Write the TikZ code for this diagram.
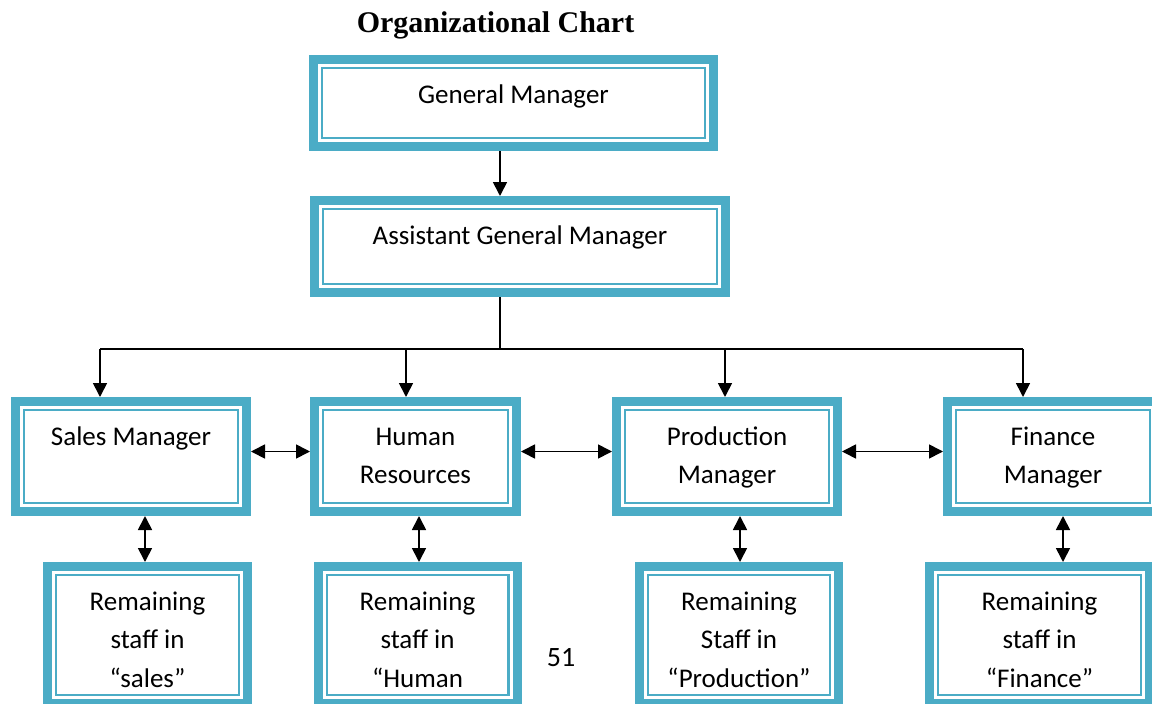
\documentclass[tikz,border=0pt]{standalone}
\usepackage{fontspec}
\setmainfont{Carlito}
\newfontfamily\headfont{Liberation Serif}
\usepackage{tikz}
\usetikzlibrary{calc,positioning,arrows.meta}
\definecolor{accent}{HTML}{4BACC6}
\newcommand{\topstrut}{\rule{0pt}{26pt}}
\tikzset{
  line/.style={line width=1.7pt},
  orgbox/.style={draw=accent, fill=white, line width=9pt, inner sep=0pt, outer sep=4.5pt,
    path picture={\draw[accent, line width=2.2pt]
      ([shift={(8.6pt,8.6pt)}]path picture bounding box.south west) rectangle
      ([shift={(-8.6pt,-8.6pt)}]path picture bounding box.north east);}},
  boxtext/.style={anchor=north, inner sep=0pt, align=center,
    font=\fontsize{27}{38.5}\selectfont}
}

\begin{document}
\begin{tikzpicture}[x=1pt, y=-1pt, >={Triangle[length=14pt,width=14pt]}]
  \useasboundingbox (0,0) rectangle (1152,704);
  \clip (0,0) rectangle (1152,704);

  \node[anchor=base, font=\headfont\fontsize{30}{36}\selectfont\bfseries] (title) at (495.5,32) {Organizational Chart};

  % top of the chart
  \node[orgbox, minimum width=400pt, minimum height=87pt] (gm) at (513.5,103) {};
  \node[boxtext] (gmtext) at ([yshift=-22pt]gm.north) {\topstrut General Manager};
  \node[orgbox, minimum width=411pt, minimum height=92pt] (agm) at (520,246.5) {};
  \node[boxtext] (agmtext) at ([yshift=-22pt]agm.north) {\topstrut Assistant General Manager};

  % managers
  \node[orgbox, minimum width=231pt, minimum height=110pt] (sm) at (131,456.5) {};
  \node[boxtext] (smtext) at ([yshift=-22pt]sm.north) {\topstrut Sales Manager};
  \node[orgbox, minimum width=202pt, minimum height=110pt] (hr) at (415.5,456.5) {};
  \node[boxtext] (hrtext) at ([yshift=-22pt]hr.north) {\topstrut Human\\Resources};
  \node[orgbox, minimum width=221pt, minimum height=110pt] (pm) at (727,456.5) {};
  \node[boxtext] (pmtext) at ([yshift=-22pt]pm.north) {\topstrut Production\\Manager};
  \node[orgbox, minimum width=211pt, minimum height=110pt] (fm) at (1053,456.5) {};
  \node[boxtext] (fmtext) at ([yshift=-22pt]fm.north) {\topstrut Finance\\Manager};

  % staff
  \node[orgbox, minimum width=200pt, minimum height=137pt] (ss) at (147.5,635) {};
  \node[boxtext] (sstext) at ([yshift=-22pt]ss.north) {\topstrut Remaining\\staff in\\“sales”};
  \node[orgbox, minimum width=199pt, minimum height=137pt] (hs) at (417.5,635) {};
  \node[boxtext] (hstext) at ([yshift=-22pt]hs.north) {\topstrut Remaining\\staff in\\“Human};
  \node[orgbox, minimum width=199pt, minimum height=137pt] (ps) at (739,635) {};
  \node[boxtext] (pstext) at ([yshift=-22pt]ps.north) {\topstrut Remaining\\Staff in\\“Production”};
  \node[orgbox, minimum width=220pt, minimum height=137pt] (fs) at (1039.5,635) {};
  \node[boxtext] (fstext) at ([yshift=-22pt]fs.north) {\topstrut Remaining\\staff in\\“Finance”};

  \node[font=\fontsize{28}{34}\selectfont] (page) at (561,658) {51};

  % bus
  \coordinate (trunk) at (500,349);
  \coordinate (d1) at (100,349);
  \coordinate (d2) at (406,349);
  \coordinate (d3) at (725,349);
  \coordinate (d4) at (1023,349);

  \draw[line, ->] (gm.south -| trunk) -- (agm.north -| trunk);
  \draw[line] (agm.south -| trunk) -- (trunk);
  \draw[line] (d1) -- (d4);
  \draw[line, ->] (d1) -- (d1 |- sm.north);
  \draw[line, ->] (d2) -- (d2 |- hr.north);
  \draw[line, ->] (d3) -- (d3 |- pm.north);
  \draw[line, ->] (d4) -- (d4 |- fm.north);

  \draw[line, <->] ([yshift=5pt]sm.east) -- ([yshift=5pt]hr.west);
  \draw[line, <->] ([yshift=5pt]hr.east) -- ([yshift=5pt]pm.west);
  \draw[line, <->] ([yshift=5pt]pm.east) -- ([yshift=5pt]fm.west);

  \draw[line, <->] ([xshift=14pt]sm.south) -- ([xshift=14pt]sm.south |- ss.north);
  \draw[line, <->] ([xshift=3.5pt]hr.south) -- ([xshift=3.5pt]hr.south |- hs.north);
  \draw[line, <->] ([xshift=13pt]pm.south) -- ([xshift=13pt]pm.south |- ps.north);
  \draw[line, <->] ([xshift=10pt]fm.south) -- ([xshift=10pt]fm.south |- fs.north);
\end{tikzpicture}
\end{document}
